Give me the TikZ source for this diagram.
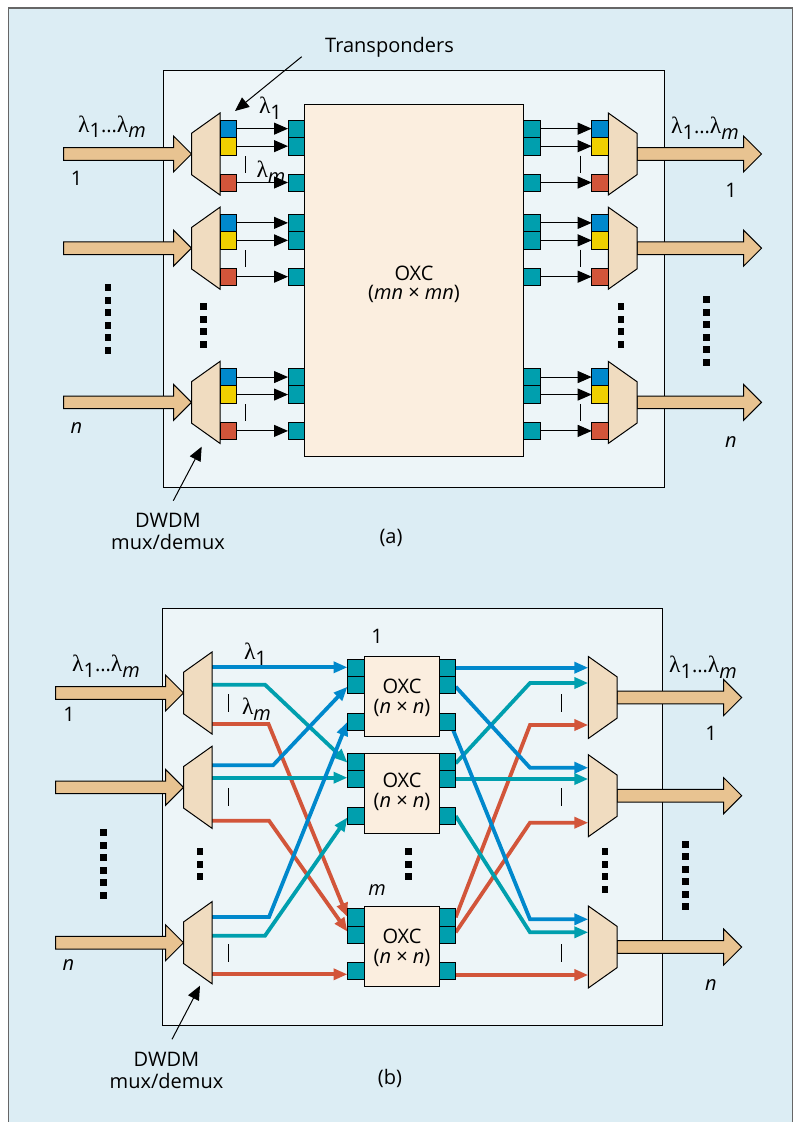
\documentclass[tikz,border=0pt]{standalone}
\usepackage{fontspec}
\setmainfont{Open Sans}
\newfontfamily\lamfont{Liberation Serif}
\usetikzlibrary{arrows.meta,calc}
\definecolor{bgout}{HTML}{DCEDF4}
\definecolor{bgin}{HTML}{EDF5F8}
\definecolor{oxcc}{HTML}{FBEEDF}
\definecolor{muxc}{HTML}{F0DCC0}
\definecolor{arrc}{HTML}{E8C391}
\definecolor{cblue}{HTML}{0088CC}
\definecolor{cyel}{HTML}{F0D000}
\definecolor{cred}{HTML}{D2553A}
\definecolor{cteal}{HTML}{009FAE}
\pgfdeclarelayer{under}
\pgfdeclarelayer{wirelayer}
\pgfsetlayers{under,wirelayer,main}
\tikzset{
  x=1pt,y=-1pt,
  plain/.style={draw=black,line width=1pt,inner sep=0pt,outer sep=0pt},
  panelbox/.style={plain,fill=bgin},
  oxcbox/.style={plain,fill=oxcc,align=center},
  tealp/.style={plain,fill=cteal},
  bluep/.style={plain,fill=cblue},
  yelp/.style={plain,fill=cyel},
  redp/.style={plain,fill=cred},
  ghost/.style={inner sep=0pt,outer sep=0pt},
  muxs/.style={draw=black,line width=1pt,fill=muxc,line join=miter},
  bigarr/.style={draw=black,line width=1pt,fill=arrc,line join=miter},
  blk/.style={draw=black,line width=1pt,-{Triangle[length=14pt,width=12pt]}},
  wire/.style={draw=#1,line width=3.8pt,line join=miter,-{Triangle[length=14pt,width=11pt]},color=#1},
  tick/.style={draw=black,line width=0.9pt},
  lab/.style={inner sep=0pt,outer sep=0pt,font=\fontsize{20}{22}\selectfont,align=center},
}
\newcommand\bx[7]{\node[#6,minimum width={((#4)-(#2))*1pt},minimum height={((#5)-(#3))*1pt}] (#1) at ({((#2)+(#4))/2},{((#3)+(#5))/2}) {#7};}
\newcommand\muxnode[4]{\node[ghost,minimum width={((#3)-(#2))*1pt},minimum height=82pt] (#1) at ({((#2)+(#3))/2},{#4}) {};}
\newcommand\demuxdraw[1]{\draw[muxs] (#1.north east) -- (#1.south east) -- ($(#1.west)+(0,20.7)$) -- ($(#1.west)+(0,-20.7)$) -- cycle;}
\newcommand\remuxdraw[1]{\draw[muxs] (#1.north west) -- (#1.south west) -- ($(#1.east)+(0,20.7)$) -- ($(#1.east)+(0,-20.7)$) -- cycle;}
\newcommand\bigarrow[2]{\draw[bigarr] ($(#1)+(0,-6.3)$) -- ($(#2)+(-18,-6.3)$) -- ($(#2)+(-18,-18)$) -- (#2) -- ($(#2)+(-18,18)$) -- ($(#2)+(-18,6.3)$) -- ($(#1)+(0,6.3)$) -- cycle;}
\newcommand\dotcol[3]{\foreach \q in {1,...,#3}{\fill[black] ({#1-3.3},{#2+(\q-1)*12.55}) rectangle ({#1+3.3},{#2+(\q-1)*12.55+7});}}
\newcommand\vtick[3]{\draw[tick] (#1,{#2}) -- (#1,{#3});}
\newcommand\lam[1]{{\lamfont\fontsize{23.5}{24}\selectfont λ}\raisebox{-5.5pt}{#1}}
\newcommand\mm{\textit{m}}
\newcommand\nn{\textit{n}}
\newcommand\lamrange{\lam{1}...\lam{\mm}}
\begin{document}
\begin{tikzpicture}
\useasboundingbox (0,0) rectangle (798,1122);
\begin{pgfonlayer}{under}
\fill[white] (0,0) rectangle (798,1122);
\draw[fill=bgout,draw=black!60,line width=1.1pt] (8.7,1124) -- (8.7,8) -- (792.7,8) -- (792.7,1124);
\bx{panelA}{163.5}{70}{664}{487}{panelbox}{}
\bx{panelB}{162}{608.7}{662.5}{1025.7}{panelbox}{}
\end{pgfonlayer}
% ---------- (a) ----------
\bx{oxcA}{304.5}{104}{523.5}{456}{oxcbox}{}
\node[lab] (oxcAt) at (414,273) {OXC};
\node[lab] (oxcAu) at (414,293.5) {(\mm\nn\ × \mm\nn)};
\foreach \r/\d in {1/0,2/94.2,3/248.4}{
  \coordinate (tailA\r) at (63.5,154+\d);
  \coordinate (headA\r) at (761.5,154+\d);
  \muxnode{lmA\r}{191.5}{220}{154+\d}
  \muxnode{rmA\r}{608.3}{637}{154+\d}
  \bigarrow{tailA\r}{lmA\r.west}
  \bigarrow{rmA\r.east}{headA\r}
  \demuxdraw{lmA\r}
  \remuxdraw{rmA\r}
  \bx{lbA\r}{220}{120+\d}{236.5}{137.3+\d}{bluep}{}
  \bx{lyA\r}{220}{137.3+\d}{236.5}{155+\d}{yelp}{}
  \bx{lrA\r}{220}{174+\d}{236.5}{191+\d}{redp}{}
  \bx{tbA\r}{288}{120+\d}{304.5}{137.3+\d}{tealp}{}
  \bx{tyA\r}{288}{137.3+\d}{304.5}{155+\d}{tealp}{}
  \bx{trA\r}{288}{174+\d}{304.5}{191+\d}{tealp}{}
  \bx{ubA\r}{523.5}{120+\d}{540.5}{137.3+\d}{tealp}{}
  \bx{uyA\r}{523.5}{137.3+\d}{540.5}{155+\d}{tealp}{}
  \bx{urA\r}{523.5}{174+\d}{540.5}{191+\d}{tealp}{}
  \bx{rbA\r}{591.7}{120+\d}{608.3}{137.3+\d}{bluep}{}
  \bx{ryA\r}{591.7}{137.3+\d}{608.3}{155+\d}{yelp}{}
  \bx{rrA\r}{591.7}{174+\d}{608.3}{191+\d}{redp}{}
  \draw[blk] (lbA\r.east) -- (tbA\r.west);
  \draw[blk] (lyA\r.east) -- (tyA\r.west);
  \draw[blk] (lrA\r.east) -- (trA\r.west);
  \draw[blk] (ubA\r.east) -- (rbA\r.west);
  \draw[blk] (uyA\r.east) -- (ryA\r.west);
  \draw[blk] (urA\r.east) -- (rrA\r.west);
  \vtick{245.7}{156+\d}{173+\d}
  \vtick{580}{155.5+\d}{173+\d}
}
\dotcol{108}{284}{6}
\dotcol{203.5}{303}{4}
\dotcol{621}{303}{4}
\dotcol{706.7}{296}{6}
\node[lab] (labA1) at (112,126.5) {\lamrange};
\node[lab] (labA2) at (76.5,178) {1};
\node[lab] (labA3) at (76.5,428) {\nn};
\node[lab] (labA4) at (270.5,108) {\lam{1}};
\node[lab] (labA5) at (271,172) {\lam{\mm}};
\node[lab] (labA6) at (705,128) {\lamrange};
\node[lab] (labA7) at (731,190) {1};
\node[lab] (labA8) at (731,442) {\nn};
\node[lab] (transp) at (389.5,47) {Transponders};
\coordinate (transpS) at (301.7,56.7);
\coordinate (transpE) at (235,111);
\draw[blk] (transpS) -- (transpE);
\node[lab] (dwA) at (168,520) {DWDM};
\node[lab] (dwAb) at (168,541.5) {mux/demux};
\coordinate (dwAS) at (173.3,500.7);
\coordinate (dwAE) at (201.7,446.7);
\draw[blk] (dwAS) -- (dwAE);
\node[lab] (capa) at (391,538) {(a)};
% ---------- (b) ----------
\foreach \r/\c in {1/693,2/787.3,3/942.7}{
  \coordinate (tailB\r) at (55.5,\c);
  \muxnode{lmB\r}{183.5}{212}{\c}
  \bigarrow{tailB\r}{lmB\r.west}
  \demuxdraw{lmB\r}
}
\foreach \r/\c in {1/697.5,2/795.7,3/947}{
  \coordinate (headB\r) at (741.7,\c);
  \muxnode{rmB\r}{588.3}{617}{\c}
  \bigarrow{rmB\r.east}{headB\r}
  \remuxdraw{rmB\r}
}
\foreach \b/\t/\e/\p in {1/656/736.7/659,2/753.3/833.3/753.3,3/906/986.7/908.7}{
  \bx{oxB\b}{364}{\t}{439}{\e}{oxcbox}{}
  \bx{La\b}{347.5}{\p}{364}{\p+17.3}{tealp}{}
  \bx{Lb\b}{347.5}{\p+17.3}{364}{\p+34.6}{tealp}{}
  \bx{Lc\b}{347.5}{\p+54}{364}{\p+71}{tealp}{}
  \bx{Ra\b}{439}{\p}{455.7}{\p+17.3}{tealp}{}
  \bx{Rb\b}{439}{\p+17.3}{455.7}{\p+34.6}{tealp}{}
  \bx{Rc\b}{439}{\p+54}{455.7}{\p+71}{tealp}{}
}
\begin{pgfonlayer}{wirelayer}
% wires, left half
\draw[wire=cblue] (lmB1.east |- 0,667.3) -- (La1.west |- 0,667.3);
\draw[wire=cteal] (lmB1.east |- 0,684.7) -- (265,684.7) -- (La2.west |- 0,762.7);
\draw[wire=cred]  (lmB1.east |- 0,724) -- (268.5,724) -- (La3.west |- 0,917);
\draw[wire=cblue] (lmB2.east |- 0,765.3) -- (273,765.3) -- (Lb1.west |- 0,686.7);
\draw[wire=cteal] (lmB2.east |- 0,777.7) -- (Lb2.west |- 0,777.7);
\draw[wire=cred]  (lmB2.east |- 0,820.7) -- (269,820.7) -- (Lb3.west |- 0,931.7);
\draw[wire=cblue] (lmB3.east |- 0,917) -- (269,917) -- (Lc1.west |- 0,721.7);
\draw[wire=cteal] (lmB3.east |- 0,935.7) -- (265,935.7) -- (Lc2.west |- 0,817.3);
\draw[wire=cred]  (lmB3.east |- 0,974.3) -- (Lc3.west |- 0,974.3);
% wires, right half
\draw[wire=cblue] (Ra1.east |- 0,667.7) -- (rmB1.west |- 0,667.7);
\draw[wire=cteal] (Ra2.east |- 0,763.3) -- (530,683) -- (rmB1.west |- 0,683);
\draw[wire=cred]  (Ra3.east |- 0,917.3) -- (530,725) -- (rmB1.west |- 0,725);
\draw[wire=cblue] (Rb1.east |- 0,686.7) -- (530,767.7) -- (rmB2.west |- 0,767.7);
\draw[wire=cteal] (Rb2.east |- 0,779) -- (rmB2.west |- 0,779);
\draw[wire=cred]  (Rb3.east |- 0,932.3) -- (530,822.7) -- (rmB2.west |- 0,822.7);
\draw[wire=cblue] ($(Rc1.south east)+(-3,-1)$) -- (530,919.3) -- (rmB3.west |- 0,919.3);
\draw[wire=cteal] (Rc2.east |- 0,816) -- (530,932.3) -- (rmB3.west |- 0,932.3);
\draw[wire=cred]  (Rc3.east |- 0,975) -- (rmB3.west |- 0,975);
\end{pgfonlayer}
\foreach \y in {694.3,788.3,944}{
  \vtick{228}{\y}{\y+17.7}
  \vtick{561.3}{\y}{\y+17.7}
}
\dotcol{103.7}{829}{6}
\dotcol{200}{848}{3}
\dotcol{408.3}{848}{3}
\dotcol{605}{848}{4}
\dotcol{685.3}{840.7}{6}
\node[lab] (o1) at (402,686) {OXC};
\node[lab] (o1u) at (402,708) {(\nn\ × \nn)};
\node[lab] (o2) at (402,780) {OXC};
\node[lab] (o2u) at (402,802) {(\nn\ × \nn)};
\node[lab] (o3) at (402,936) {OXC};
\node[lab] (o3u) at (402,957.5) {(\nn\ × \nn)};
\node[lab] (labB1) at (106,666) {\lamrange};
\node[lab] (labB2) at (69,714) {1};
\node[lab] (labB3) at (68.5,965) {\nn};
\node[lab] (labB4) at (255.5,654) {\lam{1}};
\node[lab] (labB5) at (256.5,709) {\lam{\mm}};
\node[lab] (labB6) at (703,667) {\lamrange};
\node[lab] (labB7) at (711,733) {1};
\node[lab] (labB8) at (711,985) {\nn};
\node[lab] (labB9) at (377,636) {1};
\node[lab] (labB10) at (377,890) {\mm};
\node[lab] (dwB) at (166.5,1059) {DWDM};
\node[lab] (dwBb) at (166.5,1081) {mux/demux};
\coordinate (dwBS) at (172,1039.3);
\coordinate (dwBE) at (200,985.7);
\draw[blk] (dwBS) -- (dwBE);
\node[lab] (capb) at (390,1078) {(b)};
\end{tikzpicture}
\end{document}
